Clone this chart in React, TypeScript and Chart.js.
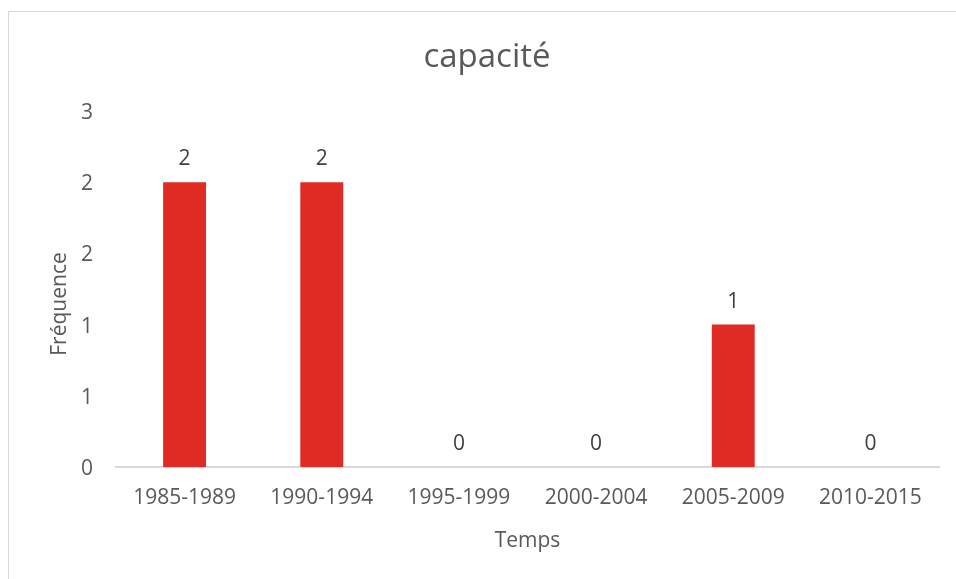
import React, { useEffect, useRef } from "react";
import { Chart, registerables } from "chart.js";

Chart.register(...registerables);

const categories = ["1985-1989", "1990-1994", "1995-1999", "2000-2004", "2005-2009", "2010-2015"];
const frequencies = [2, 2, 0, 0, 1, 0];
const chartTitle = "capacité";
const yTitle = "Fréquence";
const xTitle = "Temps";

const FONT = "'Open Sans', sans-serif";
const TEXT = "#595959";

export default function App() {
  const ref = useRef<HTMLCanvasElement | null>(null);
  useEffect(() => {
    const canvas = ref.current!;
    const overlay = {
      id: "overlay",
      afterDatasetsDraw(chart: any) {
        const ctx = chart.ctx;
        const ca = chart.chartArea;
        ctx.save();
        // data labels
        const meta = chart.getDatasetMeta(0);
        ctx.fillStyle = "#404040";
        ctx.font = `21px ${FONT}`;
        ctx.textAlign = "center";
        ctx.textBaseline = "middle";
        meta.data.forEach((bar: any, i: number) => {
          ctx.fillText(String(frequencies[i]), bar.x, bar.y - 23);
        });
        // title
        ctx.fillStyle = TEXT;
        ctx.font = `33px ${FONT}`;
        ctx.fillText(chartTitle, 487, 58);
        // x title
        ctx.font = `21px ${FONT}`;
        ctx.fillText(xTitle, (ca.left + ca.right) / 2, 541);
        // y title
        ctx.translate(60, 304);
        ctx.rotate(-Math.PI / 2);
        ctx.fillText(yTitle, 0, 0);
        ctx.restore();
      },
    };
    const chart = new Chart(canvas, {
      type: "bar",
      data: {
        labels: categories,
        datasets: [
          {
            data: frequencies,
            backgroundColor: "#E02B25",
            categoryPercentage: 1,
            barPercentage: 0.313,
          },
        ],
      },
      options: {
        animation: false,
        responsive: false,
        layout: { padding: { left: 0, right: 17, top: 111, bottom: 0 } },
        plugins: { legend: { display: false }, tooltip: { enabled: false }, title: { display: false } },
        scales: {
          x: {
            grid: { display: false, drawTicks: false },
            border: { color: "#d9d9d9", width: 2 },
            ticks: { color: TEXT, font: { family: FONT, size: 21 }, padding: 18, maxRotation: 0 },
            afterFit: (s: any) => { s.height = 112; },
          },
          y: {
            min: 0,
            max: 2.5,
            grid: { display: false, drawTicks: false },
            border: { display: false },
            ticks: {
              stepSize: 0.5,
              color: TEXT,
              font: { family: FONT, size: 21 },
              padding: 23,
              labelOffset: 2,
              callback: (v: any) => String(Math.round(Number(v))),
            },
            afterFit: (s: any) => { s.width = 116; },
          },
        },
      },
      plugins: [overlay],
    });
    return () => chart.destroy();
  }, []);
  return (
    <div style={{ position: "fixed", left: 0, top: 0, width: 956, height: 579, overflow: "hidden", background: "#fff" }}>
      <div style={{ position: "absolute", left: 8, top: 11, width: 1000, height: 700, border: "1px solid #d9d9d9" }} />
      <canvas ref={ref} width={956} height={579} style={{ position: "absolute", left: 0, top: 0 }} />
    </div>
  );
}
